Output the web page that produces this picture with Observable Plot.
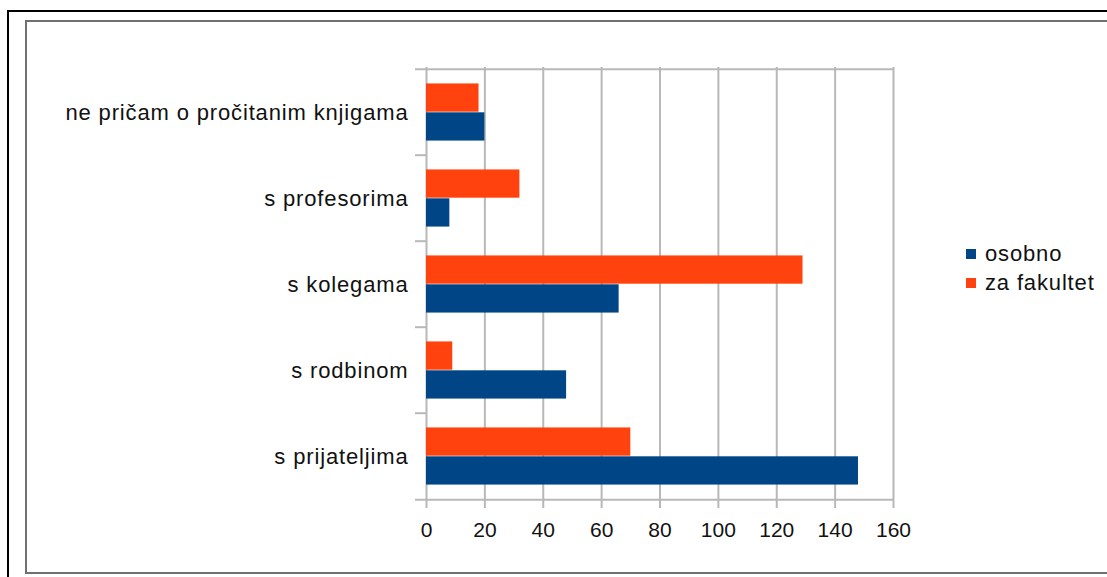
<!DOCTYPE html>
<html>
<head>
<meta charset="utf-8">
<script src="https://cdn.jsdelivr.net/npm/d3@7"></script>
<script src="https://cdn.jsdelivr.net/npm/@observablehq/plot@0.6"></script>
<style>
  html, body { margin: 0; padding: 0; background: #fff; overflow: hidden; }
  body { width: 1107px; height: 577px; position: relative; font-family: "Liberation Sans", Arial, sans-serif; }
  #outer { position: absolute; left: 7px; top: 10px; width: 1200px; height: 700px; border-left: 2px solid #000; border-top: 2px solid #000; }
  #inner { position: absolute; left: 25px; top: 20px; width: 1200px; height: 550px; border: 2px solid #707070; border-right: none; }
  #chart { position: absolute; left: 0; top: 0; }
  #legend { position: absolute; left: 966px; top: 239px; font-size: 22px; letter-spacing: 0.85px; color: #111; }
  .item { display: flex; align-items: center; height: 29px; }
  .sw { width: 10px; height: 10px; margin-right: 9px; }
  #chart svg g[aria-label="y-axis tick label"] text { letter-spacing: 0.85px; }
</style>
</head>
<body>
<div id="outer"></div>
<div id="inner"></div>
<div id="chart"></div>
<div id="legend"></div>
<script>
const categories = ["ne pričam o pročitanim knjigama", "s profesorima", "s kolegama", "s rodbinom", "s prijateljima"];
const seriesNames = ["osobno", "za fakultet"];
const osobno = [20, 8, 66, 48, 148];
const zaFakultet = [18, 32, 129, 9, 70];
const xTicks = [0, 20, 40, 60, 80, 100, 120, 140, 160];
const colors = {"osobno": "#004586", "za fakultet": "#ff420e"};

const W = 1107, H = 577;
const mTop = 67, mBottom = 77, mLeft = 426, mRight = 214;
const bw = (H - mTop - mBottom) / categories.length;

const dataOs = categories.map((c, i) => ({cat: c, value: osobno[i]}));
const dataZa = categories.map((c, i) => ({cat: c, value: zaFakultet[i]}));
const grid = "#b8b8b8";

const plot = Plot.plot({
  width: W, height: H,
  marginTop: mTop, marginBottom: mBottom, marginLeft: mLeft, marginRight: mRight,
  style: {background: "transparent", fontFamily: "'Liberation Sans', Arial, sans-serif", fontSize: "21px", color: "#111"},
  x: {domain: [0, 160], ticks: xTicks, label: null},
  y: {domain: categories, padding: 0, label: null},
  marks: [
    Plot.ruleX(xTicks, {x: d => d, stroke: grid, strokeWidth: 2, strokeOpacity: 1}),
    Plot.barX(dataZa, {x: "value", y: "cat", fill: colors["za fakultet"], insetTop: bw / 6, insetBottom: bw / 2}),
    Plot.barX(dataOs, {x: "value", y: "cat", fill: colors["osobno"], insetTop: bw / 2, insetBottom: bw / 6}),
    Plot.ruleY([categories[0]], {y: d => d, x1: 0, x2: 160, insetLeft: -11, dy: -bw / 2, stroke: grid, strokeWidth: 2}),
    Plot.ruleY([categories[categories.length - 1]], {y: d => d, x1: 0, x2: 160, insetLeft: -11, dy: bw / 2, stroke: grid, strokeWidth: 2}),
    Plot.ruleY(categories.slice(1), {y: d => d, x1: 0, x2: 0, insetLeft: -11, dy: -bw / 2, stroke: grid, strokeWidth: 2}),
    Plot.axisX({ticks: xTicks, tickSize: 8, tickPadding: 14, stroke: grid, strokeWidth: 2, strokeOpacity: 1, fill: "#111", fontSize: 21, label: null}),
    Plot.axisY({tickSize: 0, tickPadding: 18, fill: "#111", fontSize: 22, label: null})
  ]
});
document.getElementById("chart").appendChild(plot);

const legend = document.getElementById("legend");
for (const s of seriesNames) {
  const item = document.createElement("div");
  item.className = "item";
  const sw = document.createElement("div");
  sw.className = "sw";
  sw.style.background = colors[s];
  const t = document.createElement("span");
  t.textContent = s;
  item.appendChild(sw);
  item.appendChild(t);
  legend.appendChild(item);
}
</script>
</body>
</html>
